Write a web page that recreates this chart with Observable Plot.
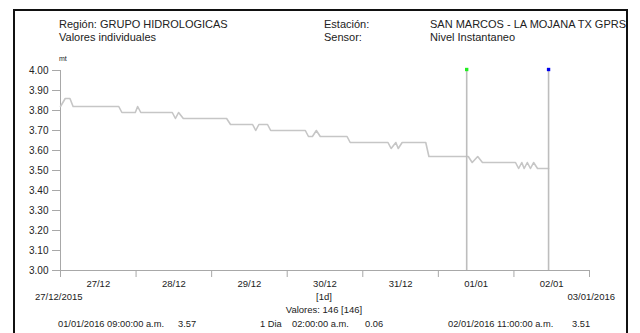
<!DOCTYPE html>
<html>
<head>
<meta charset="utf-8">
<script src="https://cdn.jsdelivr.net/npm/d3@7"></script>
<script src="https://cdn.jsdelivr.net/npm/@observablehq/plot@0.6"></script>
<style>
  html, body { margin: 0; padding: 0; background: #fff; }
  #wrap { position: relative; width: 640px; height: 333px; overflow: hidden;
          font-family: "Liberation Sans", Arial, sans-serif; color: #222; }
  #frame { position: absolute; left: 13px; top: 9px; width: 615px; height: 400px;
           border: 2px solid #111; box-sizing: border-box; }
  #chart { position: absolute; left: 0; top: 0; }
  .t { position: absolute; white-space: pre; line-height: 1; }
</style>
</head>
<body>
<div id="wrap"><div id="frame"></div><div id="chart"></div></div>
<script>
// ---------- data ----------
const headerLeft = ["Región: GRUPO HIDROLOGICAS", "Valores individuales"];
const headerKeys = ["Estación:", "Sensor:"];
const headerVals = ["SAN MARCOS - LA MOJANA TX GPRS", "Nivel Instantaneo"];
const unitLabel = "mt";

const xStart = "2015-12-27T00:00";
const xEnd = "2016-01-03T00:00";
const dayTicks = ["2015-12-27T00:00","2015-12-28T00:00","2015-12-29T00:00","2015-12-30T00:00",
                  "2015-12-31T00:00","2016-01-01T00:00","2016-01-02T00:00","2016-01-03T00:00"];
const dayLabelTimes = ["2015-12-27T12:00","2015-12-28T12:00","2015-12-29T12:00","2015-12-30T12:00",
                       "2015-12-31T12:00","2016-01-01T12:00","2016-01-02T12:00"];
const dayLabels = ["27/12","28/12","29/12","30/12","31/12","01/01","02/01"];
const yTicks = [3.00,3.10,3.20,3.30,3.40,3.50,3.60,3.70,3.80,3.90,4.00];

const seriesTimes = [
  "2015-12-27T00:00","2015-12-27T01:30","2015-12-27T03:00","2015-12-27T04:00",
  "2015-12-27T18:30","2015-12-27T19:30","2015-12-27T23:45","2015-12-28T00:30","2015-12-28T01:30",
  "2015-12-28T11:30","2015-12-28T12:30","2015-12-28T13:30","2015-12-28T15:00",
  "2015-12-29T04:45","2015-12-29T06:00","2015-12-29T13:00","2015-12-29T14:00","2015-12-29T15:00",
  "2015-12-29T17:45","2015-12-29T18:45","2015-12-30T05:45","2015-12-30T06:45","2015-12-30T08:00",
  "2015-12-30T09:15","2015-12-30T10:30","2015-12-30T19:00","2015-12-30T20:00",
  "2015-12-31T08:00","2015-12-31T09:00","2015-12-31T10:30","2015-12-31T11:15","2015-12-31T12:30",
  "2015-12-31T20:00","2015-12-31T21:00","2016-01-01T09:30","2016-01-01T10:45","2016-01-01T12:30",
  "2016-01-01T14:00","2016-01-02T00:30","2016-01-02T01:30","2016-01-02T02:30","2016-01-02T03:15",
  "2016-01-02T04:15","2016-01-02T05:15","2016-01-02T06:15","2016-01-02T07:30","2016-01-02T11:00"
];
const seriesValues = [
  3.82,3.86,3.86,3.82,
  3.82,3.79,3.79,3.82,3.79,
  3.79,3.76,3.79,3.76,
  3.76,3.73,3.73,3.70,3.73,
  3.73,3.70,3.70,3.67,3.67,
  3.70,3.67,3.67,3.64,
  3.64,3.61,3.64,3.61,3.64,
  3.64,3.57,3.57,3.54,3.57,
  3.54,3.54,3.51,3.54,3.51,
  3.54,3.51,3.54,3.51,3.51
];

const cursorTimes = ["2016-01-01T09:00","2016-01-02T11:00"];
const cursorColors = ["#22ee22","#0000ee"];
const cursorStamps = ["01/01/2016 09:00:00 a.m.","02/01/2016 11:00:00 a.m."];
const cursorValues = ["3.57","3.51"];
const diffParts = ["1 Dia","02:00:00 a.m.","0.06"];
const footerDates = ["27/12/2015","03/01/2016"];
const footerInterval = "[1d]";
const footerCount = "Valores: 146 [146]";

// ---------- chart ----------
const parse = d3.utcParse("%Y-%m-%dT%H:%M");
const series = seriesTimes.map((t, i) => ({t: parse(t), v: seriesValues[i]}));
const cursors = cursorTimes.map((t, i) => ({t: parse(t), color: cursorColors[i]}));
const days = dayTicks.map(parse);
const labelPos = dayLabelTimes.map((t, i) => ({t: parse(t), label: dayLabels[i]}));

const axisGray = "#a8a8a8";
const chart = Plot.plot({
  width: 640, height: 333,
  marginLeft: 60, marginRight: 51, marginTop: 70, marginBottom: 63,
  x: {type: "utc", domain: [parse(xStart), parse(xEnd)]},
  y: {domain: [3, 4]},
  style: {fontFamily: "'Liberation Sans', Arial, sans-serif", background: "transparent", overflow: "visible"},
  marks: [
    Plot.axisY({ticks: yTicks, tickFormat: d => d.toFixed(2), tickSize: 8, tickPadding: 4,
                fontSize: 10, stroke: axisGray, fill: "#222", label: null}),
    Plot.axisX({ticks: days, tickFormat: () => "", tickSize: 7, stroke: axisGray, label: null}),
    Plot.text(labelPos, {x: "t", y: 3, text: "label", dy: 13, fontSize: 9.5, fill: "#222"}),
    Plot.ruleX([parse(xStart)], {y1: 3, y2: 4, stroke: axisGray}),
    Plot.ruleY([3], {stroke: axisGray}),
    Plot.line(series, {x: "t", y: "v", stroke: "#c6c6c6", strokeWidth: 1.6}),
    Plot.ruleX(cursors, {x: "t", y1: 3, y2: 4, dy: 0, stroke: "#bdbdbd", strokeWidth: 1.6}),
    ...cursors.map(c => Plot.dot([c], {x: "t", y: () => 4, dy: -1, symbol: "square", r: 1.9, fill: c.color, stroke: null}))
  ]
});
document.getElementById("chart").appendChild(chart);

// ---------- html text ----------
const wrap = document.getElementById("wrap");
function place(text, x, baseline, size, anchor = "start", color = "#222") {
  const d = document.createElement("div");
  d.className = "t";
  d.textContent = text;
  d.style.fontSize = size + "px";
  d.style.top = (baseline - size * 0.85) + "px";
  d.style.left = x + "px";
  d.style.color = color;
  if (anchor === "middle") d.style.transform = "translateX(-50%)";
  if (anchor === "end") d.style.transform = "translateX(-100%)";
  wrap.appendChild(d);
}
place(headerLeft[0], 59, 28.5, 11);
place(headerLeft[1], 59, 41, 11);
place(headerKeys[0], 324, 28.5, 11);
place(headerKeys[1], 324, 41, 11);
place(headerVals[0], 430, 28.5, 11);
place(headerVals[1], 430, 41, 11);
place(unitLabel, 59, 61, 7);

place(footerDates[0], 35, 300.5, 9.5);
place(footerInterval, 324, 300.5, 9.5, "middle");
place(footerDates[1], 615, 300.5, 9.5, "end");
place(footerCount, 324, 313.5, 9.5, "middle");

place(cursorStamps[0], 58, 328, 9.3);
place(cursorValues[0], 178, 328, 9.3);
place(diffParts[0], 260, 328, 9.3);
place(diffParts[1], 292, 328, 9.3);
place(diffParts[2], 365, 328, 9.3);
place(cursorStamps[1], 448, 328, 9.3);
place(cursorValues[1], 572, 328, 9.3);
</script>
</body>
</html>
